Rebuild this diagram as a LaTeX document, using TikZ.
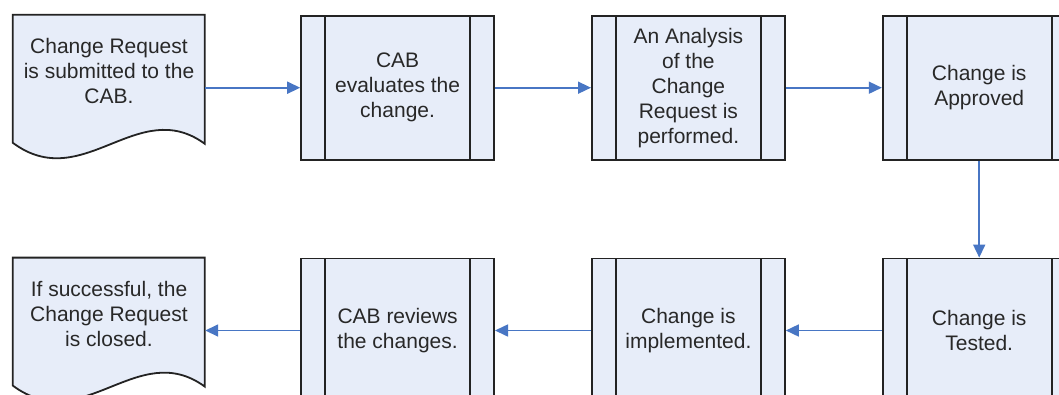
\documentclass[tikz,border=0pt]{standalone}
\usepackage{fontspec}
\setmainfont{Liberation Sans}
\usetikzlibrary{positioning, arrows.meta, backgrounds}

\definecolor{boxfill}{RGB}{231,237,249}
\definecolor{linecol}{RGB}{35,35,35}
\definecolor{textcol}{RGB}{40,40,40}
\definecolor{flowcol}{RGB}{72,118,196}

\begin{document}
\begin{tikzpicture}[
        x=1pt, y=-1pt,
        every node/.style={font=\fontsize{21}{25}\selectfont, text=textcol, align=center, inner sep=0pt},
        process/.style={rectangle, draw=linecol, fill=boxfill, line width=1.8pt, minimum width=193pt, minimum height=144pt,
            path picture={
                \draw[linecol, line width=1.8pt] ([xshift=24pt]path picture bounding box.north west) -- ([xshift=24pt]path picture bounding box.south west);
                \draw[linecol, line width=1.8pt] ([xshift=-24pt]path picture bounding box.north east) -- ([xshift=-24pt]path picture bounding box.south east);
            }},
        docbox/.style={rectangle, minimum width=192pt, minimum height=112pt},
        docline/.style={draw=linecol, fill=boxfill, line width=1.8pt},
        flow/.style={-{Triangle[length=13pt, width=12pt]}, draw=flowcol, line width=1.6pt}
    ]
        \useasboundingbox (0,0) rectangle (1059,394);
        \clip (0,0) rectangle (1059,394);

        % top row, left to right
        \node (submit) [docbox] at (109,71) {Change Request\\is submitted to the\\CAB.};
        \node (evaluate) [process, right=95pt of submit.north east, anchor=north west] {CAB\\evaluates the\\change.};
        \node (analyse) [process, right=96pt of evaluate] {An Analysis\\of the\\Change\\Request is\\performed.};
        \node (approve) [process, right=96pt of analyse] {Change is\\Approved};

        % bottom row, right to left
        \node (test) [process, below=97pt of approve] {Change is\\Tested.};
        \node (implement) [process, left=96pt of test] {Change is\\implemented.};
        \node (review) [process, left=96pt of implement] {CAB reviews\\the changes.};
        \node (close) [docbox, left=95pt of review.north west, anchor=north east] {If successful, the\\Change Request\\is closed.};

        % white page and the document outlines with the wavy bottom edge
        \begin{scope}[on background layer]
            \fill[white] (0,0) rectangle (1059,394);
            \clip (0,0) rectangle (1059,394);
            \foreach \d in {submit, close} {
                \begin{scope}[shift={(\d.north west)}]
                    \draw[docline] (0,0) -- (192,0) -- (192,129) .. controls (125,80) and (70,180) .. (0,128) -- cycle;
                \end{scope}
            }
        \end{scope}

        \draw[flow] (submit.east |- evaluate.west) -- (evaluate.west);
        \draw[flow] (evaluate) -- (analyse);
        \draw[flow] (analyse) -- (approve);
        \draw[flow] (approve) -- (test);
        \draw[flow] (test) -- (implement);
        \draw[flow] (implement) -- (review);
        \draw[flow] (review.west) -- (close.east |- review.west);
    \end{tikzpicture}
\end{document}
